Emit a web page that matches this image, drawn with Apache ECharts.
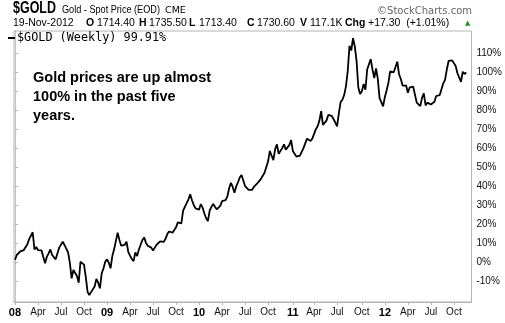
<!DOCTYPE html>
<html><head><meta charset="utf-8">
<script src="https://cdn.jsdelivr.net/npm/echarts@6/dist/echarts.min.js"></script>
<style>html,body{margin:0;padding:0;background:#fff}#c{width:505px;height:323px}</style>
</head><body><div id="c"></div>
<script>
// Weekly % change of $GOLD since the first week of 2008
const gold2008 = [1, 3.6, 4.5, 5.5, 5.5, 6.2, 5.3, 9.3, 12, 13, 15.6, 6.5, 7.8, 6.2, 6.8, 6, 2.5, -0.8, 2.7, 4.5, 6.5, 3.6, 4.5, 1.3, 4.5, 7.5, 8.5, 10.6, 10, 7, 5, -0.5, -8.7, -4.3, -4.5, -7.5, -11, 0, 1.0, -1.5, -7.9, -15.8, -17.5, -16, -15.5, -13, -9, -11, -14, -6, -3.5, 0];
const gold2009 = [1.3, -0.5, -3.4, 3.0, 6.6, 5.8, 15.4, 11.5, 8.5, 8, 9, 10.6, 5.3, 3.3, 1.5, 0.4, 5, 3, 6.5, 9, 11.5, 12.9, 10, 8.5, 8.2, 7.5, 6, 7.5, 9, 10, 10.8, 9.8, 10.5, 12, 14.5, 16, 16.2, 15.4, 16.3, 18.2, 20.8, 21.5, 20.3, 27, 29, 31, 33, 35.6, 32.5, 30, 28.2, 27.7];
const gold2010 = [27.5, 30.5, 28.6, 25.5, 23, 21.5, 27, 29, 30.5, 29, 27.7, 27.7, 29.5, 32, 33, 32.5, 34.5, 38.8, 41.7, 39.5, 36.5, 39.8, 42, 44.5, 45.8, 45.3, 40, 39, 38, 37, 38, 39.6, 40.5, 41.5, 42.5, 43.8, 44.3, 47, 50, 53, 58.5, 56, 53.7, 59.5, 62, 57, 57, 60, 62, 59.2, 59, 61.6, 64.3];
const gold2011 = [58.5, 57.5, 55.5, 54.5, 56, 57, 60, 62.5, 65, 64, 63.8, 65, 65.2, 70, 71.5, 74.5, 79.5, 72.3, 72.5, 74.5, 77.5, 78.5, 77, 77.5, 73.5, 71.5, 78.5, 84.3, 85.5, 88, 92.6, 100.5, 114, 111.5, 118, 113.7, 106, 92, 88.5, 90, 93.8, 90.8, 101.5, 102.5, 107, 101.4, 97, 102, 96.5, 86.4, 86.4, 82];
const gold2012 = [87, 90.5, 94.5, 100.5, 100.5, 100, 100, 105.6, 99, 96.5, 93, 92.9, 93, 89.2, 92, 91, 92.4, 91.5, 84, 83.6, 82.2, 86.5, 88.9, 82.5, 84, 83.6, 83, 82.8, 84.5, 87.5, 87.1, 88, 88.5, 94.2, 96, 101.5, 106, 106, 106.3, 106.9, 103.3, 99.5, 98.6, 95, 100.3, 99.1, 99.91];

// x-axis tick labels and the week index they sit on
const tickLabels = ['08','Apr','Jul','Oct','09','Apr','Jul','Oct','10','Apr','Jul','Oct','11','Apr','Jul','Oct','12','Apr','Jul','Oct'];
const tickWeeks  = [0, 13, 26, 39, 52, 65, 78, 91, 104, 117, 130, 143, 157, 169, 182, 196, 209, 222, 235, 248];
// y-axis labels (%)
const yTicks = [-10, 0, 10, 20, 30, 40, 50, 60, 70, 80, 90, 100, 110];

const values = [].concat(gold2008, gold2009, gold2010, gold2011, gold2012);
const seriesData = values.map((v, i) => [i, v]);

const chart = echarts.init(document.getElementById('c'));
const FONT = '"Liberation Sans", Arial, sans-serif';
const axisGray = '#b4b4b4';

const statTexts = [
  [13, '19-Nov-2012', false], [86, 'O', true], [97, '1714.40', false],
  [139, 'H', true], [149, '1735.50', false], [189, 'L', true], [199, '1713.40', false],
  [247, 'C', true], [257, '1730.60', false], [300, 'V', true], [310, '117.1K', false],
  [345, 'Chg', true], [368, '+17.30  (+1.01%)', false]
];

const graphics = [
  { type: 'text', x: 13, y: 1, scaleX: 0.78, style: { text: '$GOLD', font: 'bold 16px ' + FONT, fill: '#000' } },
  { type: 'text', x: 62, y: 4, scaleX: 0.83, style: { text: 'Gold - Spot Price (EOD)', font: '11px ' + FONT, fill: '#000' } },
  { type: 'text', x: 165, y: 6, style: { text: 'CME', font: '9.5px "DejaVu Sans", sans-serif', fill: '#000' } },
  { type: 'text', right: 33, top: 6, style: { text: '\u00A9StockCharts.com', font: '10px "DejaVu Sans", sans-serif', fill: '#666' } },
  { type: 'text', left: 465, top: 20, style: { text: '\u25B2', font: '7px "DejaVu Sans", sans-serif', fill: '#1a9a1a' } },
  { type: 'line', shape: { x1: 8, y1: 38, x2: 15, y2: 38 }, style: { stroke: '#000', lineWidth: 2 } },
  { type: 'text', left: 17, top: 32, style: { text: '$GOLD (Weekly) 99.91%', font: '11.8px "DejaVu Sans Mono", monospace', fill: '#000' } },
  { type: 'text', left: 33, top: 68, style: { text: 'Gold prices are up almost\n100% in the past five\nyears.', font: 'bold 14.5px ' + FONT, fill: '#000', lineHeight: 19 } }
];
statTexts.forEach(([x, t, b]) => {
  graphics.push({ type: 'text', left: x, top: 18, style: { text: t, font: (b ? 'bold 10.5px ' : '10.5px ') + FONT, fill: '#000' } });
});

chart.setOption({
  animation: false,
  grid: { left: 14, right: 33, top: 31, bottom: 21, show: true, borderColor: axisGray, borderWidth: 1 },
  xAxis: {
    type: 'value', min: -0.56, max: 257.9,
    axisLine: { show: true, onZero: false, lineStyle: { color: axisGray } },
    axisTick: { show: true, customValues: tickWeeks, length: 3, lineStyle: { color: axisGray } },
    axisLabel: {
      customValues: tickWeeks, margin: 5, fontSize: 10, fontFamily: FONT, color: '#111',
      formatter: v => { const t = tickLabels[tickWeeks.indexOf(v)]; return /^\d/.test(t) ? '{y|' + t + '}' : t; },
      rich: { y: { fontWeight: 'bold', fontSize: 11, fontFamily: FONT, color: '#000' } }
    },
    splitLine: { show: false }
  },
  yAxis: {
    type: 'value', position: 'right', min: -21.2, max: 121.8,
    axisLine: { show: true, lineStyle: { color: axisGray, type: 'dotted' } },
    axisTick: { show: true, customValues: yTicks, length: 3, lineStyle: { color: axisGray } },
    axisLabel: { customValues: yTicks, formatter: '{value}%', margin: 5, fontSize: 10, fontFamily: FONT, color: '#111' },
    splitLine: { show: false }
  },
  graphic: graphics,
  series: [{ type: 'line', data: seriesData, showSymbol: false, silent: true, lineStyle: { color: '#000', width: 1.8 } }]
});
</script></body></html>
